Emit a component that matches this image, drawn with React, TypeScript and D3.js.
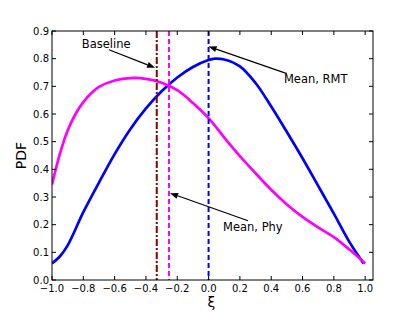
import React from "react";
import * as d3 from "d3";

// curve samples (xi, pdf)
const rmtXi = [-1.0, -0.95, -0.9, -0.8, -0.7, -0.6, -0.5, -0.4, -0.3, -0.2, -0.1, 0.0, 0.04, 0.1, 0.2, 0.3, 0.4, 0.5, 0.6, 0.7, 0.8, 0.9, 0.99];
const rmtPdf = [0.06, 0.085, 0.125, 0.245, 0.352, 0.455, 0.545, 0.62, 0.682, 0.732, 0.77, 0.795, 0.8, 0.797, 0.772, 0.712, 0.627, 0.535, 0.44, 0.34, 0.24, 0.137, 0.06];

const phyXi = [-1.0, -0.95, -0.9, -0.85, -0.8, -0.75, -0.7, -0.6, -0.5, -0.4, -0.3, -0.2, -0.1, 0.0, 0.1, 0.2, 0.3, 0.4, 0.5, 0.6, 0.7, 0.8, 0.9, 1.0];
const phyPdf = [0.345, 0.455, 0.54, 0.6, 0.643, 0.675, 0.698, 0.721, 0.73, 0.727, 0.713, 0.686, 0.64, 0.585, 0.515, 0.448, 0.386, 0.326, 0.273, 0.228, 0.19, 0.155, 0.11, 0.06];

// vertical reference lines
const vlineXi = [-0.331, -0.253, 0.0];
const vlineColor = ["#8b0000", "#ff00ff", "#0000ff"];
const vlineDash = ["7,2,2,2", "5,3", "5,3"];

// annotations: label, text anchor, arrow tail, arrow tip
const annLabels = ["Baseline", "Mean, RMT", "Mean, Phy"];
const annText = [[-0.81, 0.84], [0.481, 0.713], [0.092, 0.177]];
const annTail = [[-0.636, 0.832], [0.5, 0.746], [0.252, 0.214]];
const annTip = [[-0.342, 0.767], [0.0, 0.844], [-0.246, 0.314]];

const xTicks = [-1.0, -0.8, -0.6, -0.4, -0.2, 0.0, 0.2, 0.4, 0.6, 0.8, 1.0];
const yTicks = [0.0, 0.1, 0.2, 0.3, 0.4, 0.5, 0.6, 0.7, 0.8, 0.9];

export default function App() {
  const W = 415;
  const H = 312;
  const left = 52, right = 373, top = 31, bottom = 280;

  const x = d3.scaleLinear().domain([-1, 1.05]).range([left, right]);
  const y = d3.scaleLinear().domain([0, 0.9]).range([bottom, top]);

  const line = d3
    .line<[number, number]>()
    .x(d => x(d[0]))
    .y(d => y(d[1]))
    .curve(d3.curveCatmullRom.alpha(0.5));

  const rmt = rmtXi.map((v, i) => [v, rmtPdf[i]] as [number, number]);
  const phy = phyXi.map((v, i) => [v, phyPdf[i]] as [number, number]);

  const fmt = (v: number) => d3.format(".1f")(v).replace("-", "\u2212");
  const font = "DejaVu Sans, sans-serif";

  return (
    <svg width={W} height={H} style={{ position: "absolute", left: 0, top: 0, background: "white" }}>
      <defs>
        <clipPath id="plot">
          <rect x={left} y={top} width={right - left} height={bottom - top} />
        </clipPath>
      </defs>

      <g clipPath="url(#plot)">
        <path d={line(rmt) || ""} fill="none" stroke="#0000ff" strokeWidth={2.7} />
        <path d={line(phy) || ""} fill="none" stroke="#ff00ff" strokeWidth={2.7} />
        {vlineXi.map((v, i) => (
          <line key={i} x1={x(v)} x2={x(v)} y1={top} y2={bottom}
            stroke={vlineColor[i]} strokeWidth={2} strokeDasharray={vlineDash[i]} />
        ))}
      </g>

      {/* frame */}
      <rect x={left} y={top} width={right - left} height={bottom - top} fill="none" stroke="black" strokeWidth={1} />

      {/* ticks */}
      {xTicks.map(t => (
        <g key={"x" + t}>
          <line x1={x(t)} x2={x(t)} y1={bottom} y2={bottom - 4} stroke="black" />
          <line x1={x(t)} x2={x(t)} y1={top} y2={top + 4} stroke="black" />
          <text x={x(t)} y={bottom + 11.5} textAnchor="middle" fontFamily={font} fontSize={10}>{fmt(t)}</text>
        </g>
      ))}
      {yTicks.map(t => (
        <g key={"y" + t}>
          <line x1={left} x2={left + 4} y1={y(t)} y2={y(t)} stroke="black" />
          <line x1={right} x2={right - 4} y1={y(t)} y2={y(t)} stroke="black" />
          <text x={left - 3} y={y(t) + 3.5} textAnchor="end" fontFamily={font} fontSize={10}>{fmt(t)}</text>
        </g>
      ))}

      {/* axis labels */}
      <text transform={`translate(26,${(top + bottom) / 2}) rotate(-90)`} textAnchor="middle" fontFamily={font} fontSize={14}>PDF</text>
      <text x={(left + right) / 2 - 1} y={307} textAnchor="middle" fontFamily={font} fontSize={14}>ξ</text>

      {/* annotations */}
      {annLabels.map((lab, i) => {
        const x1 = x(annTail[i][0]), y1 = y(annTail[i][1]);
        const x2 = x(annTip[i][0]), y2 = y(annTip[i][1]);
        const ang = Math.atan2(y2 - y1, x2 - x1);
        const hl = 8, hw = 3;
        const bx = x2 - hl * Math.cos(ang), by = y2 - hl * Math.sin(ang);
        const p1 = [bx + hw * Math.sin(ang), by - hw * Math.cos(ang)];
        const p2 = [bx - hw * Math.sin(ang), by + hw * Math.cos(ang)];
        return (
          <g key={lab}>
            <line x1={x1} y1={y1} x2={bx} y2={by} stroke="black" strokeWidth={1.2} />
            <polygon points={`${x2},${y2} ${p1[0]},${p1[1]} ${p2[0]},${p2[1]}`} fill="black" />
            <text x={x(annText[i][0])} y={y(annText[i][1])} fontFamily={font} fontSize={11.5}>{lab}</text>
          </g>
        );
      })}
    </svg>
  );
}
